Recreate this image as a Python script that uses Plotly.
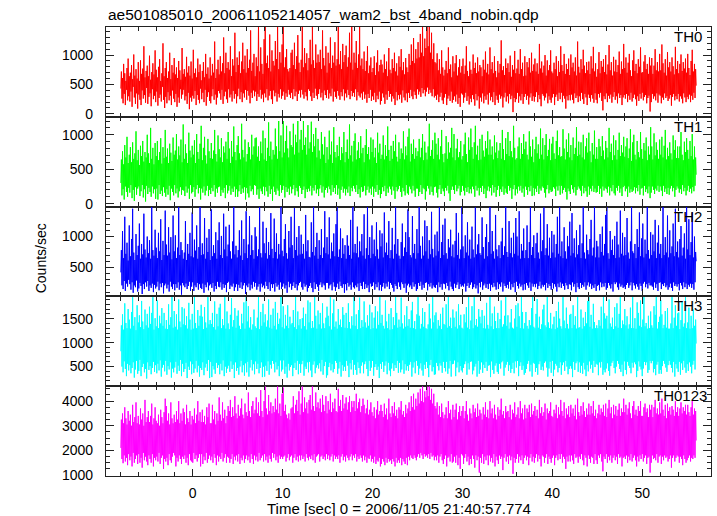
import numpy as np
import plotly.graph_objects as go
from plotly.subplots import make_subplots

# light curve binning (seconds): 1/16 s bins starting at -8 s
t_start = -8.0
bin_size = 0.0625

th0 = [430,720,260,610,180,850,340,690,150,560,410,780,230,940,300,640,
210,700,380,830,120,590,460,1010,280,650,170,760,350,600,90,880,
330,560,240,910,150,680,400,770,260,1150,320,620,190,730,440,820,
170,640,290,990,350,580,130,710,420,860,250,670,310,1080,200,750,
380,620,140,800,270,930,330,560,210,690,460,1200,240,640,100,780,
290,880,180,610,370,720,230,1040,310,590,150,830,400,700,260,950,
200,670,340,790,120,610,280,900,190,740,420,580,260,1120,330,680,
410,760,230,630,300,970,170,700,360,810,80,650,280,890,210,600,
310,1090,260,690,390,770,150,620,320,940,240,710,180,840,430,570,
250,730,360,880,200,620,410,1020,140,680,290,790,370,600,220,960,
180,650,300,850,420,700,240,1230,330,610,160,760,280,920,390,670,
350,980,240,720,410,860,170,1300,300,690,380,1040,250,780,190,880,
420,750,280,1150,330,640,210,930,390,820,260,1380,340,710,180,960,
300,830,430,1060,250,690,370,890,200,1210,350,760,280,990,410,700,
240,1100,390,780,310,920,180,1420,360,730,270,870,400,1020,300,640,
380,960,220,810,340,1500,290,720,410,1130,260,850,330,680,200,1270,
350,1500,280,860,420,990,230,780,310,1350,390,720,250,1080,170,900,
400,820,300,1240,360,930,210,1500,340,760,280,1050,420,870,260,1180,
310,1500,380,790,240,960,350,1100,290,760,410,720,330,780,270,1040,
360,1090,250,830,420,1210,300,760,380,980,220,1340,340,870,400,710,
280,920,410,1500,330,790,260,1120,370,860,300,1030,230,740,420,950,
390,1260,300,840,220,1500,360,910,270,780,430,1180,310,870,250,1010,
340,880,420,1090,280,760,360,1420,230,950,400,820,320,1150,270,700,
410,1040,260,860,350,1300,300,780,430,990,210,870,380,1220,290,820,
260,930,390,1500,310,840,240,1070,370,760,300,1190,420,880,230,1000,
350,1160,280,800,410,960,320,1380,250,870,390,1500,300,750,360,1040,
290,870,420,1240,230,780,370,1010,310,1500,280,820,350,940,240,760,
380,1060,260,730,330,900,190,1150,340,690,270,820,410,960,220,710,
300,780,240,980,360,660,200,870,310,1080,250,720,380,830,160,920,
220,840,350,700,280,1010,170,760,330,890,240,640,390,1120,290,750,
340,690,210,930,300,780,260,1040,150,720,370,860,230,650,320,980,
250,800,330,1100,190,740,400,880,280,670,230,950,350,790,200,710,
360,1020,270,830,410,1180,300,900,250,1290,380,860,320,1100,260,940,
420,1220,330,960,380,1360,290,1040,440,1500,350,980,410,1280,300,1120,
380,1500,450,1150,340,1500,410,1040,360,1380,300,930,420,1200,280,880,
310,860,240,1030,330,740,200,930,290,680,360,1080,230,790,170,650,
280,750,340,900,150,690,260,1130,310,760,220,840,380,620,190,980,
240,720,300,860,210,1000,330,650,170,790,270,930,120,700,350,810,
330,940,190,680,280,820,360,1150,220,730,300,640,160,890,260,750,
200,680,320,1010,250,780,140,870,340,690,230,960,300,720,90,830,
280,790,210,640,350,920,180,750,300,1060,240,700,330,850,160,670,
360,1130,230,760,290,880,200,690,370,980,150,730,310,620,240,900,
190,700,330,850,260,1250,300,740,110,810,280,660,360,940,210,780,
300,860,180,710,340,990,250,630,310,830,30,750,270,1070,200,690,
250,770,360,920,190,680,300,1100,230,760,340,870,170,640,290,980,
340,650,240,880,310,790,160,950,280,700,350,1040,220,730,300,840,
210,940,290,720,370,860,200,680,320,1190,250,770,130,890,340,700,
310,820,230,1000,280,650,350,910,180,740,300,830,240,1080,190,720,
280,690,340,870,150,760,290,980,330,640,220,900,360,710,250,1150,
360,830,200,730,310,1020,260,680,90,850,300,760,230,940,320,660,
230,1010,330,790,240,870,180,720,350,960,270,650,310,1230,200,800,
300,700,220,930,360,760,250,1090,170,820,340,690,280,880,150,740,
330,890,270,680,210,980,320,770,260,1140,190,720,350,860,240,630,
180,760,340,1050,280,690,360,900,220,800,60,930,300,710,250,1000,
350,670,200,840,310,1170,260,740,330,880,190,650,290,970,370,720,
240,920,300,710,180,830,350,1060,270,680,320,890,150,760,280,1190,
320,780,260,960,340,700,200,870,310,1020,240,740,360,640,210,910,
270,1080,330,730,250,850,140,690,300,930,220,800,340,1130,260,700,
360,710,230,890,290,1000,320,760,180,850,270,680,310,960,40,820,
200,950,340,680,260,820,300,1100,230,740,350,880,190,720,330,1020,
310,740,180,1180,280,860,240,700,350,930,270,650,300,1050,220,790,
260,880,320,720,140,960,290,810,340,670,230,1140,300,760,250,900,
340,690,210,850,300,1010,260,730,180,880,350,770,280,940,200,700,
290,1020,250,780,330,660,200,900,310,1090,240,720,360,850,270,760,
480]

th1 = [300,640,120,760,210,570,60,850,250,670,170,970,100,590,230,710,
160,820,270,600,80,890,200,650,40,730,240,1050,130,630,220,780,
250,560,110,840,180,690,270,910,90,610,210,750,30,670,260,1000,
140,730,230,590,170,1100,100,650,250,810,150,570,210,880,70,690,
220,910,60,630,270,750,140,950,190,580,110,820,240,660,160,1070,
100,680,210,800,130,590,260,870,50,740,220,620,170,960,120,710,
270,770,150,1010,220,640,90,830,180,700,240,930,130,600,200,1150,
190,650,110,860,250,730,160,590,220,1030,70,770,270,670,150,840,
170,710,240,920,100,590,210,1010,270,750,150,650,230,870,60,1130,
220,630,160,810,250,970,120,700,190,580,260,940,110,760,200,660,
140,880,230,650,180,770,270,1070,100,720,220,610,160,990,240,790,
250,670,110,950,200,600,160,830,230,740,80,900,270,650,150,1040,
190,800,260,590,130,910,220,680,170,1120,250,750,100,630,210,850,
100,980,180,730,270,640,140,1160,220,780,160,670,240,930,60,610,
230,720,150,890,90,820,260,640,180,1000,210,710,130,830,270,950,
260,960,130,680,210,830,70,620,220,900,180,730,140,1060,250,640,
120,950,240,620,180,810,100,1180,260,690,140,900,210,640,40,780,
250,710,170,1090,130,830,220,650,190,1200,110,760,270,990,160,670,
200,1200,260,740,90,910,240,1130,170,800,220,670,130,1050,250,850,
150,820,210,1160,270,710,120,1000,230,890,180,1200,100,740,260,930,
230,1070,140,780,200,1200,250,850,80,960,210,710,170,1140,220,800,
180,890,260,1190,120,750,230,1010,190,830,270,1100,150,670,210,940,
110,770,220,650,270,1040,160,860,250,710,90,970,200,590,230,820,
160,640,250,1060,210,710,120,900,270,590,170,1110,230,750,140,670,
270,850,130,690,220,970,70,630,200,820,250,730,160,1040,220,600,
120,750,210,930,160,650,250,1150,110,700,230,840,180,610,260,910,
220,1020,170,640,270,770,140,890,210,660,90,980,240,730,170,810,
180,600,260,850,120,1080,200,720,250,820,160,640,220,960,130,750,
250,930,100,670,220,810,170,590,270,1030,130,740,200,870,80,650,
140,710,240,990,180,640,260,850,110,690,220,1120,160,780,250,620,
210,840,130,650,250,910,190,760,70,1000,240,680,180,610,210,890,
260,650,170,800,100,730,230,1050,180,640,120,830,270,700,150,970,
130,1090,250,610,210,870,150,720,260,930,190,650,100,810,220,690,
220,760,110,940,170,670,270,810,140,1010,230,630,210,900,60,740,
180,640,260,830,220,1160,130,690,250,780,170,920,120,650,240,1030,
250,870,160,710,90,950,210,640,270,830,140,1070,220,720,180,600,
110,730,230,980,190,650,260,890,150,740,40,810,200,1100,250,670,
200,1010,140,630,270,800,180,940,220,670,260,750,120,910,170,640,
260,690,190,860,120,1030,230,720,170,600,240,960,150,780,210,1090,
150,820,250,650,210,890,100,1130,260,710,190,840,230,630,120,940,
230,640,170,1000,260,770,140,680,220,910,80,800,190,1050,250,710,
180,930,230,710,120,830,270,640,160,990,240,740,100,890,200,660,
260,770,110,880,210,650,170,1070,250,790,130,630,220,950,160,720,
140,1040,260,690,190,910,230,760,70,670,210,1130,270,810,120,640,
210,660,150,830,250,960,190,650,260,880,160,720,220,1010,100,790,
250,900,200,710,130,640,240,1050,180,830,260,680,110,930,230,600,
120,790,220,970,170,730,260,860,140,650,220,1090,190,710,250,950,
230,640,160,850,90,1010,210,690,270,780,150,940,200,630,170,870,
180,970,240,730,220,650,110,910,250,1060,190,700,260,820,130,680,
260,690,150,1080,200,800,230,640,170,930,60,750,220,1020,180,670,
140,850,270,630,210,960,160,720,240,810,120,1110,200,690,250,900,
220,710,190,890,110,670,260,1000,150,640,230,830,180,950,100,740,
250,1030,130,760,220,600,180,880,260,710,170,1060,220,650,160,820,
170,650,260,940,140,830,220,690,100,980,250,770,190,640,230,910,
210,810,160,670,250,1100,120,750,230,870,180,630,270,990,150,700,
120,920,230,640,190,780,260,1030,160,690,220,850,110,740,240,970,
260,680,180,830,220,950,100,660,250,800,160,1080,210,620,170,890,
190,1000,240,710,150,640,230,910,180,750,270,670,130,1040,220,790,
230,650,120,880,260,770,170,960,210,630,150,830,250,710,80,1110,
160,830,250,640,200,1020,140,700,220,890,190,780,260,650,170,930,
250,710,190,970,110,670,260,840,170,1070,220,640,140,810,230,690,
130,890,220,730,260,640,180,990,230,780,100,920,200,660,250,830,
220,660,160,830,210,1040,140,710,270,630,180,900,230,750,120,950,
190,780,260,650,170,910,220,690,150,1010,240,640,180,830,260,670,
420]

th2 = [420,780,210,1090,150,650,280,1320,120,720,240,900,190,610,300,1180,
230,680,140,960,260,1450,90,740,210,620,180,1040,290,700,110,850,
160,1210,250,640,200,880,70,710,230,1370,150,790,260,660,190,1000,
280,730,120,940,210,640,170,1490,240,780,100,690,220,1110,160,820,
190,650,270,1060,130,760,240,1280,180,620,250,930,80,700,210,1420,
240,870,160,690,220,1150,110,740,270,990,190,630,150,1340,230,760,
130,1020,230,650,170,820,260,1490,140,700,210,910,60,780,250,640,
210,740,180,1250,240,620,150,880,200,720,270,1060,120,680,190,1390,
260,660,120,950,210,770,180,1180,250,640,140,830,230,1490,170,700,
150,890,240,710,90,1300,220,640,180,980,260,750,130,1120,210,620,
230,1440,170,680,250,860,110,730,200,1070,150,640,270,940,190,1230,
180,700,260,1010,140,650,230,1370,170,790,220,1160,100,680,250,870,
270,1190,150,760,210,640,190,920,240,1490,120,710,180,850,230,660,
120,780,220,1100,170,690,260,1260,150,620,210,960,250,730,70,1410,
210,650,180,870,240,1330,130,700,220,1020,160,780,270,640,190,1150,
250,1000,140,680,190,790,230,1490,110,730,240,660,180,1240,210,890,
160,730,270,1140,200,640,150,910,260,700,120,1380,230,800,170,650,
230,1290,110,750,250,1050,190,640,220,880,140,710,260,1490,150,770,
190,680,240,960,160,1200,210,730,90,640,270,1090,180,820,240,1320,
140,860,200,650,260,1460,170,780,230,990,130,690,210,1170,250,710,
270,1030,180,720,140,880,240,640,190,1350,220,760,110,940,170,670,
200,660,250,1230,170,750,100,1490,260,690,150,830,230,1060,190,640,
120,940,220,700,260,1120,180,650,240,820,210,1410,140,730,250,990,
250,710,160,1310,210,640,230,900,130,760,260,1050,190,680,120,1200,
180,1490,240,670,150,790,270,1130,200,650,170,970,230,720,90,860,
230,640,130,1020,250,850,190,700,220,1270,140,640,260,1490,180,740,
160,880,210,730,180,1160,240,660,120,920,250,760,200,1040,150,690,
270,1360,150,640,230,810,170,1490,210,700,100,990,240,650,190,1180,
200,720,260,950,140,680,230,1230,180,790,260,640,130,1100,220,840,
120,1050,190,660,250,1390,160,740,240,900,190,700,270,1250,150,650,
250,780,220,1140,170,640,110,870,230,1490,200,720,150,960,260,690,
190,640,140,910,260,1210,230,680,170,820,240,1070,90,750,210,1440,
240,990,180,700,210,660,150,1330,260,730,190,880,230,640,120,1120,
150,730,250,1490,200,850,270,640,140,1000,220,690,170,1260,250,760,
260,1170,130,640,230,940,190,710,250,1400,160,800,210,660,180,1030,
170,690,220,1080,100,760,260,1490,180,650,230,910,140,1190,240,700,
230,1290,160,730,250,640,200,960,130,820,270,1110,190,680,150,870,
120,660,240,930,170,1380,220,700,260,1060,150,640,230,790,190,1490,
210,840,190,650,240,1020,110,740,200,1230,250,690,170,950,220,640,
260,1160,150,790,180,660,230,1470,160,710,210,870,80,1040,250,730,
180,700,270,1310,140,830,210,640,240,990,170,1200,230,680,150,910,
240,1490,120,720,220,1090,180,760,250,640,190,1350,140,790,260,680,
150,860,230,650,190,920,260,1140,110,700,240,840,200,1490,170,750,
220,670,160,1250,270,730,140,980,230,660,180,1060,250,720,100,1300,
270,1000,200,690,160,1410,240,640,190,880,220,770,130,1130,230,650,
140,780,250,1180,210,650,170,910,260,1490,120,700,240,830,190,1020,
230,650,180,890,240,1060,150,740,200,640,270,1370,160,760,220,940,
190,1470,220,700,130,810,250,1200,170,690,230,980,200,650,140,1090,
250,740,160,1030,230,660,190,880,110,1320,240,720,180,1490,260,680,
170,920,240,650,200,1150,140,760,250,640,210,1010,150,840,230,1240,
220,690,130,1380,260,730,190,970,230,660,100,1100,250,710,180,860,
150,1190,250,650,170,890,220,1490,190,740,260,640,140,1030,210,780,
260,710,190,960,240,1270,150,690,210,820,170,1490,230,660,120,930,
200,840,220,660,130,1040,260,750,180,1160,240,690,190,880,250,1350,
140,1490,170,730,250,640,210,1090,160,780,230,950,110,700,260,1010,
230,650,260,1240,180,870,140,660,240,1420,190,720,220,1060,170,690,
190,990,150,700,220,1300,250,740,170,640,210,920,260,1490,130,760,
250,730,210,880,160,650,230,1120,190,830,140,1390,240,680,200,970,
120,1210,240,660,270,950,180,720,230,1490,160,780,250,640,210,1070,
210,700,190,1030,140,760,260,1270,170,650,230,900,120,1180,250,720,
260,880,150,650,230,1490,200,700,250,990,180,740,210,1340,140,660,
180,1100,240,730,170,840,120,1210,260,680,200,1450,230,750,190,920,
230,660,130,960,250,1170,210,690,150,820,260,1050,180,640,240,1490,
150,790,220,1280,190,700,240,910,170,1390,230,660,140,1000,260,750,
600]

th3 = [820,1360,500,1590,380,1270,610,1820,450,1410,300,1300,560,1700,420,1480,
530,1290,360,1640,470,1950,590,1350,270,1530,440,1260,620,1780,350,1420,
410,1570,640,1320,300,1870,490,1440,560,1280,380,1690,450,1360,250,1600,
590,1310,430,1750,510,1390,340,1620,470,1950,600,1270,390,1510,530,1340,
360,1880,560,1300,420,1560,630,1400,290,1720,480,1350,540,1620,400,1290,
620,1470,330,1280,510,1800,440,1370,590,1530,270,1950,460,1310,380,1660,
480,1330,600,1590,350,1270,520,1900,410,1440,640,1320,300,1740,560,1380,
390,1710,450,1360,580,1550,260,1290,500,1830,430,1480,610,1270,340,1600,
550,1290,370,1950,460,1410,620,1300,380,1680,520,1350,290,1560,470,1790,
430,1540,590,1280,320,1740,480,1420,560,1310,410,1950,640,1380,260,1470,
600,1390,280,1620,510,1320,440,1860,350,1270,580,1600,470,1340,530,1730,
340,1810,560,1300,420,1490,630,1360,300,1950,500,1290,370,1650,460,1400,
520,1280,390,1580,610,1930,450,1330,540,1470,260,1720,590,1310,410,1560,
470,1670,330,1350,500,1280,620,1600,380,1400,530,1840,310,1290,570,1950,
380,1440,600,1760,290,1310,480,1530,640,1270,420,1380,550,1690,340,1340,
610,1300,450,1520,560,1950,360,1280,470,1640,590,1350,280,1810,500,1420,
290,1590,520,1330,410,1460,610,1900,330,1310,540,1580,460,1290,620,1710,
560,1350,380,1850,590,1270,440,1620,510,1390,300,1500,630,1950,400,1320,
440,1760,630,1290,350,1580,500,1350,270,1780,560,1300,420,1540,490,1380,
530,1410,300,1680,470,1320,580,1950,430,1280,620,1650,340,1360,560,1490,
370,1290,550,1510,620,1730,310,1340,500,1600,450,1270,590,1880,380,1420,
600,1840,420,1300,280,1450,540,1310,610,1950,360,1560,480,1290,530,1670,
460,1380,570,1620,400,1290,640,1820,330,1400,510,1300,600,1520,270,1750,
320,1560,490,1340,580,1950,420,1270,550,1610,380,1900,450,1330,620,1440,
580,1290,350,1700,460,1370,600,1480,290,1320,530,1740,410,1580,500,1310,
410,1620,620,1300,520,1820,280,1430,570,1290,440,1550,640,1360,330,1950,
540,1350,430,1590,330,1280,590,1680,470,1940,360,1300,520,1470,590,1330,
360,1860,550,1420,610,1310,450,1570,300,1350,620,1790,410,1280,480,1630,
620,1300,310,1520,490,1760,550,1290,430,1650,500,1370,260,1950,560,1410,
450,1580,600,1350,390,1290,520,1880,610,1440,340,1300,580,1600,420,1270,
300,1720,460,1280,570,1530,410,1360,530,1950,470,1620,620,1310,370,1480,
580,1330,380,1940,440,1400,630,1290,350,1570,550,1330,420,1760,510,1350,
410,1490,540,1310,600,1670,290,1850,480,1300,590,1450,360,1280,620,1590,
520,1950,330,1560,460,1290,570,1390,420,1720,310,1330,540,1640,450,1300,
600,1280,470,1380,280,1810,530,1500,640,1290,400,1950,490,1420,330,1570,
340,1630,580,1290,510,1470,420,1350,570,1600,520,1280,370,1730,600,1390,
470,1370,400,1800,600,1310,350,1950,460,1340,620,1520,290,1300,550,1690,
560,1520,630,1330,300,1650,480,1290,590,1800,380,1360,510,1580,420,1310,
380,1290,470,1590,550,1420,610,1740,330,1310,570,1950,440,1280,600,1460,
610,1760,340,1300,420,1950,500,1360,560,1490,290,1330,620,1700,350,1540,
440,1400,590,1680,370,1300,540,1560,470,1290,600,1830,410,1370,520,1290,
530,1950,280,1340,610,1610,430,1280,350,1750,520,1450,570,1300,390,1620,
350,1300,560,1490,460,1880,590,1330,620,1380,310,1560,480,1950,540,1350,
600,1570,410,1290,530,1420,370,1700,450,1310,580,1290,360,1500,610,1780,
480,1330,620,1820,300,1550,510,1300,590,1950,430,1640,520,1290,330,1410,
370,1640,450,1350,560,1290,620,1470,400,1360,540,1720,290,1950,580,1330,
560,1300,390,1600,470,1910,330,1310,550,1540,610,1280,430,1380,500,1690,
420,1790,580,1360,610,1320,480,1950,290,1420,460,1300,600,1620,370,1290,
620,1380,300,1540,440,1280,560,1660,520,1310,380,1850,470,1500,590,1340,
330,1290,530,1950,590,1460,410,1300,620,1730,500,1390,340,1290,450,1580,
510,1600,460,1300,280,1780,600,1370,430,1550,570,1290,610,1950,390,1310,
590,1320,370,1690,520,1290,350,1520,580,1340,440,1640,300,1400,530,1870,
400,1950,610,1330,460,1580,540,1290,370,1810,620,1430,490,1300,560,1360,
540,1300,320,1470,590,1350,480,1750,600,1290,330,1950,430,1610,380,1500,
460,1560,570,1290,410,1900,310,1400,510,1330,580,1520,620,1280,470,1740,
360,1340,500,1820,620,1310,560,1600,450,1950,390,1300,540,1460,300,1380,
610,1700,430,1360,340,1550,600,1290,520,1380,470,1730,360,1300,580,1950,
480,1300,590,1510,550,1290,280,1840,410,1620,610,1350,500,1880,440,1320,
300,1480,460,1950,600,1340,530,1410,590,1290,370,1560,430,1300,620,1650,
570,1360,620,1310,380,1760,450,1580,320,1950,540,1290,600,1430,350,1540,
430,1890,350,1590,510,1300,620,1370,560,1660,480,1310,390,1720,530,1290,
620,1290,540,1400,470,1950,380,1300,600,1520,290,1780,550,1350,460,1610,
390,1630,600,1280,330,1470,570,1850,430,1330,620,1400,480,1950,370,1300,
550,1420,410,1730,590,1290,500,1560,360,1300,540,1690,620,1350,440,1480,
980]

th0123 = [2100,3250,1650,3500,1480,3100,1800,3750,1550,3300,1700,3050,1400,3600,1850,3200,
1600,3450,1750,3000,1350,3850,1900,3150,1500,3350,1650,3950,1800,3100,1450,3400,
1850,3050,1500,3700,1700,3250,1300,3500,1900,3000,1600,4050,1750,3150,1550,3350,
1400,3600,1800,3150,1650,3400,1500,3900,1850,3050,1350,3300,1700,3750,1600,3200,
1750,3100,1550,3450,1900,3000,1450,3650,1700,3350,1800,3100,1250,3550,1650,4100,
1550,3800,1700,3200,1400,3500,1850,3050,1600,3950,1500,3300,1750,3100,1900,3450,
1800,3150,1350,3600,1700,3250,1550,4000,1800,3100,1650,3500,1450,3200,1750,3700,
1650,3550,1800,3050,1500,3850,1700,3300,1400,3150,1850,3600,1600,3050,1550,3400,
1500,3250,1900,3700,1650,3100,1800,3450,1550,4000,1700,3200,1850,3550,1350,3150,
1850,3650,1450,3150,1750,3400,1600,3050,1900,3750,1500,3350,1650,3900,1800,3100,
1600,3100,1750,3850,1500,3250,1850,3600,1700,3050,1400,3500,1800,3200,1550,4150,
1750,3450,1650,3200,1900,3950,1550,3300,1700,3650,1850,3100,1500,3400,1750,3800,
1700,3600,1500,4050,1650,3350,1850,3750,1450,3400,1750,4200,1600,3500,1800,3300,
1550,3850,1850,3400,1450,3700,1700,4100,1600,3450,1800,3300,1500,3900,1650,3550,
1800,3400,1600,4350,1750,3600,1500,3350,1850,3800,1650,4000,1450,3500,1800,3650,
1600,4150,1750,3500,1550,3950,1900,3400,1600,4450,1700,3600,1800,3350,1550,4000,
1850,4600,1600,3700,1750,3450,1500,4250,1800,3600,1650,3950,1550,3500,1900,3800,
1700,3550,1850,4100,1600,3650,1750,4600,1500,3500,1800,3900,1650,3400,1750,4300,
1650,4550,1750,3600,1800,3850,1550,3450,1700,3300,1850,3500,1600,3250,1750,3700,
1800,3750,1500,4200,1700,3500,1850,3850,1600,4050,1750,3600,1550,4400,1800,3450,
1600,3900,1800,4600,1650,3550,1750,4150,1550,3700,1850,3950,1700,3500,1600,4050,
1750,4250,1650,3650,1800,4600,1600,3800,1850,3600,1500,4350,1750,3750,1800,3950,
1850,3700,1550,4100,1750,3550,1800,4250,1650,3850,1750,3600,1600,4200,1850,3500,
1650,4000,1800,3650,1600,4300,1750,3550,1850,3950,1550,3700,1800,4100,1650,3600,
1750,3550,1650,4500,1800,3800,1500,4050,1750,3600,1850,4250,1600,3700,1750,3900,
1550,4150,1800,3650,1700,3950,1600,4200,1750,3550,1850,4000,1600,3750,1800,4000,
1700,3600,1850,4300,1550,3700,1750,3950,1650,4100,1800,3550,1700,3800,1550,4100,
1800,3850,1600,3500,1750,3700,1500,4050,1700,3450,1650,3650,1800,3950,1550,3550,
1650,3400,1500,3750,1750,3300,1450,3650,1600,4000,1550,3450,1700,3600,1350,3850,
1450,3600,1650,3350,1550,3900,1400,3450,1700,3700,1500,3250,1650,4100,1550,3500,
1600,3350,1450,3800,1650,3500,1550,3950,1350,3400,1700,3650,1500,3300,1600,3750,
1500,3650,1700,4000,1400,3450,1650,3600,1550,3350,1450,3850,1700,3500,1400,3700,
1750,3950,1600,3600,1800,4200,1700,3750,1650,4300,1800,3650,1700,4100,1600,3800,
1750,4350,1850,3900,1700,4500,1900,4000,1800,4600,1650,3950,1850,4400,1750,4150,
1800,4600,1700,4200,1850,4600,1650,4050,1900,4500,1750,3900,1800,4300,1600,3800,
1750,3700,1600,3950,1800,3450,1500,3800,1750,3350,1850,3900,1600,3550,1450,3300,
1650,3450,1800,3750,1350,3300,1700,4000,1750,3500,1550,3650,1850,3250,1500,3850,
1550,3350,1750,3650,1500,3900,1800,3250,1400,3550,1700,3800,1250,3400,1850,3600,
1800,3800,1450,3300,1700,3600,1850,4000,1550,3450,1750,3200,1400,3700,1650,3500,
1450,3300,1800,3850,1650,3550,1300,3700,1800,3350,1600,3900,1750,3400,1100,3650,
1700,3500,1500,3250,1850,3750,1450,3450,1750,3950,1600,3350,1800,3650,1400,3300,
1800,4000,1550,3500,1700,3700,1500,3300,1850,3850,1350,3450,1750,3250,1600,3750,
1450,3400,1800,3650,1650,4100,1750,3450,1200,3600,1700,3300,1850,3800,1550,3550,
1750,3600,1450,3350,1800,3850,1600,3250,1750,3650,1050,3500,1700,3950,1500,3350,
1650,3450,1850,3750,1500,3300,1750,4000,1600,3500,1800,3700,1450,3250,1700,3850,
1800,3300,1600,3700,1750,3550,1400,3850,1700,3350,1850,3900,1550,3450,1750,3600,
1500,3800,1700,3400,1850,3650,1550,3300,1800,4050,1650,3500,1350,3750,1800,3400,
1750,3550,1500,3900,1700,3250,1850,3700,1450,3500,1750,3600,1650,3950,1500,3400,
1700,3350,1800,3650,1400,3500,1700,3850,1800,3300,1600,3750,1850,3450,1650,4050,
1850,3600,1500,3400,1750,3950,1650,3300,1250,3700,1750,3450,1550,3800,1800,3350,
1550,3850,1800,3500,1600,3700,1450,3400,1850,3850,1700,3250,1750,4100,1500,3550,
1750,3400,1650,3800,1850,3450,1600,3950,1400,3600,1800,3350,1700,3700,1350,3450,
1800,3900,1650,3450,1500,3800,1750,3500,1700,4000,1450,3400,1850,3650,1600,3300,
1450,3500,1800,3850,1700,3450,1850,3700,1550,3550,1150,3850,1750,3400,1650,3900,
1850,3350,1500,3700,1750,4050,1600,3500,1800,3750,1500,3300,1700,3850,1800,3450,
1600,3800,1750,3400,1450,3650,1850,3900,1700,3400,1750,3700,1350,3550,1700,4100,
1750,3550,1650,3850,1800,3450,1500,3700,1750,3950,1600,3500,1850,3300,1550,3800,
1700,4000,1800,3450,1600,3650,1350,3400,1750,3800,1550,3600,1800,4000,1650,3400,
1850,3400,1550,3750,1700,3900,1800,3550,1450,3700,1700,3350,1750,3850,1100,3650,
1500,3850,1800,3350,1650,3750,1700,4050,1600,3500,1850,3700,1500,3450,1750,3950,
1800,3500,1450,4100,1750,3650,1600,3400,1800,3850,1700,3300,1750,3900,1550,3600,
1650,3750,1800,3450,1300,3800,1700,3650,1800,3400,1550,4000,1700,3550,1800,3750,
1750,3400,1500,3700,1750,3950,1650,3500,1400,3750,1800,3600,1650,3850,1500,3450,
1600,3850,1700,3550,1800,3400,1550,3750,1700,4000,1650,3450,1800,3700,1700,3600,
2400]

band_names = ["TH0", "TH1", "TH2", "TH3", "TH0123"]
band_values = [th0, th1, th2, th3, th0123]
band_colors = ["#ff0000", "#00ff00", "#0000ff", "#00ffff", "#ff00ff"]
y_ranges = [[-50, 1478], [-43, 1261], [31, 1485], [90, 1965], [960, 4607]]
y_major = [500, 500, 500, 500, 1000]
y_minor = [100, 100, 100, 100, 250]
x_range = [-9.65, 57.65]

title_text = "ae501085010_20061105214057_wam2_bst_4band_nobin.qdp"
x_title = "Time [sec] 0 = 2006/11/05 21:40:57.774"
y_title = "Counts/sec"

FONT = "Liberation Sans, Arial, sans-serif"

fig = make_subplots(rows=5, cols=1, shared_xaxes=True, vertical_spacing=0)

for i, (vals, col) in enumerate(zip(band_values, band_colors)):
    t = t_start + bin_size * np.arange(len(vals))
    fig.add_trace(go.Scatter(x=t, y=vals, mode="lines",
                             line=dict(color=col, width=1.0, simplify=False),
                             showlegend=False, hoverinfo="skip"),
                  row=i + 1, col=1)

common = dict(showline=True, linecolor="#222222", linewidth=1.3, mirror="allticks",
              ticks="inside", tickcolor="#222222", tickwidth=1, showgrid=False,
              zeroline=False, tickfont=dict(family=FONT, size=14, color="black"))

fig.update_xaxes(range=x_range, tick0=0, dtick=10, ticklen=7,
                 minor=dict(dtick=2, tick0=0, ticklen=4, ticks="inside",
                            tickcolor="#222222", showgrid=False),
                 **common)
fig.update_xaxes(ticklabelstandoff=4, row=5, col=1)

for i in range(5):
    fig.update_yaxes(range=y_ranges[i], tick0=0, dtick=y_major[i], ticklen=8,
                     ticklabelstandoff=9,
                     minor=dict(dtick=y_minor[i], tick0=0, ticklen=4, ticks="inside",
                                tickcolor="#222222", showgrid=False),
                     row=i + 1, col=1, **common)

label_x = [0.988, 0.988, 0.988, 0.988, 0.997]
for i, name in enumerate(band_names):
    xref = "x domain" if i == 0 else f"x{i + 1} domain"
    yref = "y domain" if i == 0 else f"y{i + 1} domain"
    fig.add_annotation(text=name, xref=xref, yref=yref, x=label_x[i], y=1.0,
                       xanchor="right", yanchor="top", showarrow=False, yshift=1,
                       font=dict(family=FONT, size=15, color="black"))

fig.add_annotation(text=title_text, xref="paper", yref="paper", x=0, y=1.028,
                   xanchor="left", yanchor="middle", showarrow=False,
                   font=dict(family=FONT, size=15.5, color="black"))
fig.add_annotation(text=x_title, xref="paper", yref="paper", x=0.484, y=-0.0715,
                   xanchor="center", yanchor="middle", showarrow=False,
                   font=dict(family=FONT, size=15, color="black"))
fig.add_annotation(text=y_title, xref="paper", yref="paper", x=-0.107, y=0.4855,
                   xanchor="center", yanchor="middle", showarrow=False, textangle=-90,
                   font=dict(family=FONT, size=14, color="black"))

fig.update_layout(width=717, height=516,
                  margin=dict(l=106, r=6, t=27, b=40),
                  paper_bgcolor="white", plot_bgcolor="white")

fig.write_html("out.html", config={"displayModeBar": False})

# remove the browser's default page margin so the figure sits at the window origin
with open("out.html", "r", encoding="utf-8") as f:
    html = f.read()
html = html.replace("<head>", "<head><style>html,body{margin:0;padding:0;overflow:hidden;}</style>", 1)
with open("out.html", "w", encoding="utf-8") as f:
    f.write(html)
